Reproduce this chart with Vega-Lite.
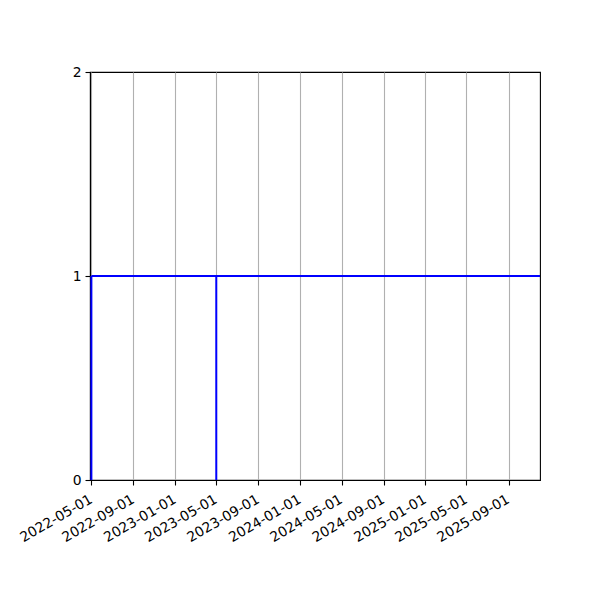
{
  "$schema": "https://vega.github.io/schema/vega-lite/v6.json",
  "autosize": "none",
  "width": 450,
  "height": 408,
  "padding": {"left": 90, "top": 72, "right": 60, "bottom": 120},
  "background": "white",
  "config": {
    "font": "DejaVu Sans",
    "view": {"stroke": "black", "strokeWidth": 1.1},
    "axis": {
      "labelFont": "DejaVu Sans",
      "labelFontSize": 13.9,
      "labelColor": "black",
      "domainColor": "black",
      "domainWidth": 1.1,
      "tickColor": "black",
      "tickWidth": 1.1,
      "tickSize": 5,
      "labelPadding": 4,
      "title": null
    }
  },
  "data": {
    "values": [
      {"start": "2022-05-01", "end": "2025-12-31", "low": 1, "high": 1},
      {"start": "2022-05-01", "end": "2022-05-01", "low": 0, "high": 1},
      {"start": "2023-05-01", "end": "2023-05-01", "low": 0, "high": 1}
    ]
  },
  "mark": {"type": "rule", "color": "blue", "strokeWidth": 2, "clip": true},
  "encoding": {
    "x": {
      "field": "start",
      "type": "temporal",
      "scale": {
        "type": "utc",
        "domain": [
          {"year": 2022, "month": 4, "date": 27, "utc": true},
          {"year": 2025, "month": 12, "date": 2, "utc": true}
        ],
        "nice": false
      },
      "axis": {
        "values": [
          {"year": 2022, "month": 5, "date": 1, "utc": true},
          {"year": 2022, "month": 9, "date": 1, "utc": true},
          {"year": 2023, "month": 1, "date": 1, "utc": true},
          {"year": 2023, "month": 5, "date": 1, "utc": true},
          {"year": 2023, "month": 9, "date": 1, "utc": true},
          {"year": 2024, "month": 1, "date": 1, "utc": true},
          {"year": 2024, "month": 5, "date": 1, "utc": true},
          {"year": 2024, "month": 9, "date": 1, "utc": true},
          {"year": 2025, "month": 1, "date": 1, "utc": true},
          {"year": 2025, "month": 5, "date": 1, "utc": true},
          {"year": 2025, "month": 9, "date": 1, "utc": true}
        ],
        "format": "%Y-%m-%d",
        "labelAngle": -30,
        "labelAlign": "right",
        "labelBaseline": "top",
        "labelOffset": -4,
        "labelPadding": 7,
        "labelOverlap": false,
        "labelFlush": false,
        "grid": true,
        "gridColor": "#b0b0b0",
        "gridWidth": 1.1
      }
    },
    "x2": {"field": "end"},
    "y": {
      "field": "low",
      "type": "quantitative",
      "scale": {"domain": [0, 2], "nice": false},
      "axis": {
        "tickCount": 2,
        "grid": false,
        "labelOverlap": false,
        "labelFlush": false
      }
    },
    "y2": {"field": "high"}
  }
}
